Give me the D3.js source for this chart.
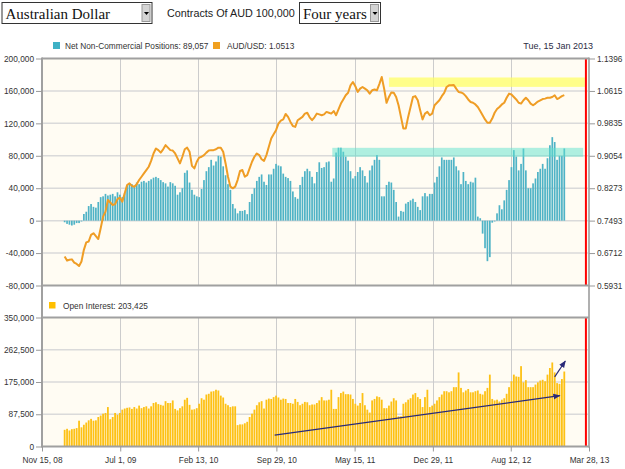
<!DOCTYPE html>
<html>
<head>
	<meta charset="utf-8">
	<title>Australian Dollar - Net Non-Commercial Positions</title>
	<script src="https://d3js.org/d3.v7.min.js"></script>
	<style>
		body { margin: 0; background: #fff; }
		text { font-family: 'Liberation Sans', Arial, sans-serif; }
	</style>
</head>
<body>
	<svg id="chart" width="625" height="469"></svg>
	<script type="text/javascript">
		//data.........................................

		var firstWeek = '2009-01-20';   // weekly COT reports, last one Tue 15 Jan 2013

		var netPositions = [
			-2000, -4000, -5000, -6000, -5000, -3000, -3000, -1000,
			8200, 11000, 18000, 20500, 17000, 16000, 23000, 29000, 30000, 33000,
			31000, 32000, 33000, 30000, 35000, 32000, 29000, 34000, 43000, 46000,
			45000, 42000, 47000, 45000, 48000, 49000, 47000, 49000, 51000, 53000,
			54000, 52500, 50000, 47500, 46000, 42000, 47500, 46000, 43000, 32000,
			35000, 40000, 59000, 62000, 47000, 38000, 32000, 30000, 29000, 39000,
			50000, 61000, 66000, 75000, 68000, 73000, 80000, 79000, 67000, 56000,
			45000, 38000, 20500, 15000, 9000, 12000, 12000, 13000, 8000, 23000,
			33000, 40000, 49000, 54000, 57000, 48000, 44000, 57000, 57000, 64000,
			70000, 68000, 67000, 58000, 54000, 52500, 49000, 36000, 29000, 27000,
			44000, 54000, 61000, 64000, 61000, 54000,
			46000, 60000, 72000, 65000, 66000, 72000, 73000, 48000, 52000, 84000,
			90000, 90000, 85000, 79000, 74000, 61000, 52000, 55000, 60000, 66000,
			62000, 55000, 47000, 62000, 68000, 75000, 81000, 75000, 30000, 30000,
			44000, 48000, 47000, 38000, 23000, 5000, 12000, 11000, 21000, 23000,
			25000, 27000, 23000, 17000, 13000, 30000, 34000, 30000, 33000, 33000,
			47000, 54000, 67000, 78000, 75000, 75000, 75000, 75000, 78000, 67000,
			62000, 45000, 60000, 49000, 45000, 48000, 47000, 53000, 5000, 3000,
			-16000, -34000, -50000, -45000, -2500, -1000, 9000, 19000, 14000, 25000,
			38000, 50000, 66000, 87000, 79000, 62000, 70000, 89000, 62000, 40000,
			40000, 46000, 52000, 60000, 64000, 70000, 64000, 77000, 93000, 103000,
			97000, 75000, 80000, 80000, 89057
		];

		var audUsd = [
			0.663, 0.653, 0.655, 0.656, 0.648, 0.645, 0.640, 0.651, 0.679, 0.697,
			0.699, 0.715, 0.719, 0.712, 0.705, 0.731, 0.759, 0.771,
			0.799, 0.793, 0.787, 0.789, 0.801, 0.805, 0.795, 0.815, 0.835, 0.839,
			0.833, 0.831, 0.837, 0.847, 0.855, 0.863, 0.871, 0.879, 0.893, 0.911,
			0.923, 0.919, 0.913, 0.921, 0.931, 0.925, 0.919, 0.918, 0.911, 0.899,
			0.887, 0.903, 0.921, 0.925, 0.915,
			0.881, 0.875, 0.891, 0.901, 0.903, 0.907, 0.913, 0.918, 0.919, 0.919,
			0.921, 0.925, 0.925, 0.915, 0.887, 0.855, 0.831, 0.827, 0.831, 0.847,
			0.869, 0.871, 0.855, 0.859, 0.875, 0.891, 0.903, 0.911, 0.907, 0.897,
			0.893, 0.907, 0.927, 0.947, 0.957,
			0.967, 0.983, 0.990, 0.993, 1.006, 0.999, 0.987, 0.977, 0.975, 0.991,
			0.995, 0.999, 1.007, 1.009, 0.998, 0.991, 0.998, 1.007, 1.005,
			1.003, 1.005, 1.011, 1.009, 1.007, 1.013, 1.003, 1.017, 1.031, 1.041,
			1.051, 1.057, 1.075, 1.083, 1.073, 1.059, 1.067, 1.071, 1.067, 1.063,
			1.055, 1.063, 1.065, 1.063, 1.078, 1.095, 1.067, 1.033, 1.047, 1.058,
			1.057, 1.047, 1.027, 0.999, 0.971, 0.971, 0.999, 1.023, 1.047, 1.049,
			1.039, 1.015, 0.993, 1.007, 1.011, 1.003, 1.007, 1.027, 1.033, 1.039,
			1.049, 1.057, 1.071, 1.075, 1.075, 1.076, 1.067, 1.059, 1.058, 1.055,
			1.049, 1.041, 1.035, 1.033, 1.029, 1.023, 1.013, 1.003, 0.993, 0.985,
			0.985, 0.995, 1.009, 1.018, 1.023, 1.029, 1.033, 1.045, 1.055, 1.053,
			1.047, 1.041, 1.033, 1.031, 1.039, 1.045, 1.039, 1.031, 1.027, 1.031,
			1.036, 1.039, 1.042, 1.043, 1.045, 1.045, 1.047, 1.051, 1.042, 1.045,
			1.049, 1.0513
		];

		var openInterest = [
			45300, 48000, 43500, 47000, 48000, 50000, 70000, 52000, 59000, 65000,
			71000, 75000, 70000, 71000, 80000, 84000, 89000, 91000,
			107000, 74000, 80000, 91000, 86000, 91000, 100000, 103000, 105000, 106000,
			102000, 107000, 103000, 111000, 104000, 107000, 109000, 103000, 109000, 118000,
			120000, 115000, 113000, 111000, 123000, 118000, 118000, 125000, 102000, 98000,
			104000, 109000, 127000, 132000, 113000,
			100000, 101000, 104000, 116000, 131000, 127000, 141000, 143000, 149000, 150000,
			154000, 152000, 138000, 133000, 116000, 112000, 107000, 109000, 109000, 58000,
			60000, 60000, 63000, 67000, 80000, 89000, 100000, 112000, 120000, 123000,
			103000, 127000, 130000, 129000, 134000,
			138000, 133000, 127000, 130000, 129000, 118000, 118000, 116000, 129000, 121000,
			112000, 116000, 121000, 120000, 112000, 114000, 114000, 118000, 125000,
			134000, 125000, 125000, 127000, 154000, 102000, 102000, 134000, 145000, 149000,
			142000, 142000, 141000, 129000, 116000, 111000, 118000, 145000, 112000, 100000,
			92000, 125000, 129000, 136000, 134000, 127000, 104000, 104000, 111000, 122000,
			131000, 125000, 82000, 82000, 116000, 120000, 127000, 131000, 141000, 145000,
			134000, 129000, 107000, 134000, 154000, 107000, 111000, 116000, 125000, 134000,
			141000, 150000, 150000, 147000, 150000, 161000, 161000, 201000, 159000, 147000,
			152000, 156000, 147000, 147000, 150000, 152000, 143000, 141000, 150000, 159000,
			195000, 129000, 125000, 127000, 122000, 127000, 131000, 143000, 161000, 177000,
			195000, 190000, 189000, 218000, 174000, 180000, 161000, 161000, 161000, 168000,
			174000, 179000, 181000, 177000, 195000, 213000, 228000, 201000, 172000, 170000,
			183000, 203425
		];

		var dateTicks = ['2008-11-15', '2009-07-01', '2010-02-13', '2010-09-29', '2011-05-15', '2011-12-29', '2012-08-12', '2013-03-28'];
		var dateLabels = ['Nov 15, 08', 'Jul 1, 09', 'Feb 13, 10', 'Sep 29, 10', 'May 15, 11', 'Dec 29, 11', 'Aug 12, 12', 'Mar 28, 13'];
		var netTicks = [-80000, -40000, 0, 40000, 80000, 120000, 160000, 200000];
		var audTicks = [0.5931, 0.6712, 0.7493, 0.8273, 0.9054, 0.9835, 1.0615, 1.1396];
		var oiTicks = [0, 87500, 175000, 262500, 350000];

		// highlight zones and hand drawn arrows (in date / value units)
		var audZone = {from: '2011-08-23', to: '2013-03-16', low: 1.0713, high: 1.0939};
		var netZone = {from: '2011-03-11', to: '2013-03-11', low: 78800, high: 89800};
		var oiArrows = [
			{from: ['2010-09-24', 31000], to: ['2013-01-02', 138000]},
			{from: ['2012-12-18', 189000], to: ['2013-01-18', 232000]}
		];
		var todayMark = '2013-03-19';

		var parseDate = d3.timeParse('%Y-%m-%d');
		var weeks = netPositions.map(function(d, i) { return d3.timeWeek.offset(parseDate(firstWeek), i); });

		//layout.........................................

		var left = 42, right = 589;
		var top1 = 58.5, bottom1 = 285.5;
		var top2 = 317.5, bottom2 = 446.5;

		//scales.........................................

		var xScale = d3.scaleTime()
			.domain([parseDate(dateTicks[0]), parseDate(dateTicks[dateTicks.length - 1])])
			.range([left, right]);

		var yNet = d3.scaleLinear().domain([-80000, 200000]).range([bottom1, top1]);
		var yAud = d3.scaleLinear().domain([0.5931, 1.1396]).range([bottom1, top1]);
		var yOi = d3.scaleLinear().domain([0, 350000]).range([bottom2, top2]);

		var fmt = function(v) { return d3.format(',')(v).replace('\u2212', '-'); };

		var svg = d3.select('#chart');

		//header.........................................

		function selectBox(x, w, label) {
			var g = svg.append('g').attr('transform', 'translate(' + x + ',2)');
			g.append('rect').attr('x', 0.5).attr('y', 0.5).attr('width', w).attr('height', 21)
				.attr('fill', '#fff').attr('stroke', '#333');
			g.append('rect').attr('x', w - 9.5).attr('y', 2.5).attr('width', 8).attr('height', 17)
				.attr('fill', '#d4d4d4').attr('stroke', '#999');
			g.append('path').attr('d', 'M' + (w - 7.5) + ',10 h5 l-2.5,3 z').attr('fill', '#000');
			g.append('text').attr('x', 4).attr('y', 16.5)
				.style('font-family', "'Liberation Serif', 'Times New Roman', serif")
				.style('font-size', '15px').attr('fill', '#111').text(label);
		}
		selectBox(1.5, 150, 'Australian Dollar');
		svg.append('text').attr('x', 167).attr('y', 17).style('font-size', '10.8px').attr('fill', '#222')
			.text('Contracts Of AUD 100,000');
		selectBox(299, 81, 'Four years');

		//plot backgrounds...............................

		svg.append('rect').attr('x', left).attr('y', top1).attr('width', right - left).attr('height', bottom1 - top1).attr('fill', '#fffcf3');
		svg.append('rect').attr('x', left).attr('y', top2).attr('width', right - left).attr('height', bottom2 - top2).attr('fill', '#fffcf3');

		//grid...........................................

		var grid = svg.append('g');
		grid.selectAll('.hnet').data(netTicks.slice(1, -1)).enter().append('line')
			.attr('x1', left).attr('x2', right)
			.attr('y1', function(d) { return yNet(d); }).attr('y2', function(d) { return yNet(d); })
			.attr('stroke', '#dadada').attr('stroke-width', 1.5);
		grid.selectAll('.hoi').data(oiTicks.slice(1, -1)).enter().append('line')
			.attr('x1', left).attr('x2', right)
			.attr('y1', function(d) { return yOi(d); }).attr('y2', function(d) { return yOi(d); })
			.attr('stroke', '#dadada').attr('stroke-width', 1.5);
		[[top1, bottom1], [top2, bottom2]].forEach(function(r) {
			grid.selectAll(null).data(dateTicks.slice(1, -1)).enter().append('line')
				.attr('x1', function(d) { return Math.round(xScale(parseDate(d))) + 0.5; })
				.attr('x2', function(d) { return Math.round(xScale(parseDate(d))) + 0.5; })
				.attr('y1', r[0]).attr('y2', r[1])
				.attr('stroke', '#cccccc').attr('stroke-width', 1);
		});

		//net positions bars.............................

		svg.append('g').selectAll('rect').data(netPositions).enter().append('rect')
			.attr('x', function(d, i) { return xScale(weeks[i]) - 0.85; })
			.attr('width', 1.7)
			.attr('y', function(d) { return yNet(Math.max(0, d)); })
			.attr('height', function(d) { return Math.abs(yNet(d) - yNet(0)); })
			.attr('fill', '#4fb3c6');

		//zones..........................................

		svg.append('rect')
			.attr('x', xScale(parseDate(netZone.from)))
			.attr('width', xScale(parseDate(netZone.to)) - xScale(parseDate(netZone.from)))
			.attr('y', yNet(netZone.high)).attr('height', yNet(netZone.low) - yNet(netZone.high))
			.attr('fill', '#5fe2cd').attr('opacity', 0.5);
		svg.append('rect')
			.attr('x', xScale(parseDate(audZone.from)))
			.attr('width', xScale(parseDate(audZone.to)) - xScale(parseDate(audZone.from)))
			.attr('y', yAud(audZone.high)).attr('height', yAud(audZone.low) - yAud(audZone.high))
			.attr('fill', '#ffff66').attr('opacity', 0.75);

		//aud/usd line...................................

		var line = d3.line()
			.x(function(d, i) { return xScale(weeks[i]); })
			.y(function(d) { return yAud(d); });
		svg.append('path').datum(audUsd).attr('d', line)
			.attr('fill', 'none').attr('stroke', '#ef9d25').attr('stroke-width', 2)
			.attr('stroke-linejoin', 'round');

		//open interest bars.............................

		svg.append('g').selectAll('rect').data(openInterest).enter().append('rect')
			.attr('x', function(d, i) { return xScale(weeks[i]) - 0.9; })
			.attr('width', 1.8)
			.attr('y', function(d) { return yOi(d); })
			.attr('height', function(d) { return yOi(0) - yOi(d); })
			.attr('fill', '#fdc115');

		//arrows.........................................

		svg.append('defs').append('marker')
			.attr('id', 'head').attr('viewBox', '0 0 10 10').attr('refX', 9).attr('refY', 5)
			.attr('markerWidth', 6).attr('markerHeight', 6).attr('orient', 'auto')
			.append('path').attr('d', 'M0,1 L10,5 L0,9 z').attr('fill', '#2a2a78');
		svg.append('g').selectAll('line').data(oiArrows).enter().append('line')
			.attr('x1', function(d) { return xScale(parseDate(d.from[0])); })
			.attr('y1', function(d) { return yOi(d.from[1]); })
			.attr('x2', function(d) { return xScale(parseDate(d.to[0])); })
			.attr('y2', function(d) { return yOi(d.to[1]); })
			.attr('stroke', '#2a2a78').attr('stroke-width', 1.2)
			.attr('marker-end', 'url(#head)');

		//today marker...................................

		var tx = xScale(parseDate(todayMark));
		[[top1, bottom1], [top2, bottom2]].forEach(function(r) {
			svg.append('line').attr('x1', tx).attr('x2', tx).attr('y1', r[0]).attr('y2', r[1])
				.attr('stroke', '#ff0000').attr('stroke-width', 2);
		});

		//frame..........................................

		var frame = svg.append('g').attr('stroke', '#a0a0a0').attr('stroke-width', 2).attr('fill', 'none');
		frame.append('line').attr('x1', left).attr('x2', left).attr('y1', top1 - 1).attr('y2', bottom2 + 1);
		frame.append('line').attr('x1', right).attr('x2', right).attr('y1', top1 - 1).attr('y2', bottom2 + 1).attr('stroke', '#b0b0b0');
		[top1, bottom1, top2, bottom2].forEach(function(y) {
			frame.append('line').attr('x1', left).attr('x2', right).attr('y1', y).attr('y2', y);
		});

		//axes...........................................

		function styleAxis(g) {
			g.select('.domain').remove();
			g.selectAll('line').attr('stroke', '#999');
			g.selectAll('text').attr('fill', '#333').style('font-size', '8.3px')
				.style('font-family', "'Liberation Sans', Arial, sans-serif");
		}

		svg.append('g').attr('transform', 'translate(' + left + ',0)')
			.call(d3.axisLeft(yNet).tickValues(netTicks).tickSize(6).tickPadding(2).tickFormat(fmt))
			.call(styleAxis);
		svg.append('g').attr('transform', 'translate(' + right + ',0)')
			.call(d3.axisRight(yAud).tickValues(audTicks).tickSize(6).tickPadding(2).tickFormat(d3.format('.4f')))
			.call(styleAxis);
		svg.append('g').attr('transform', 'translate(' + left + ',0)')
			.call(d3.axisLeft(yOi).tickValues(oiTicks).tickSize(6).tickPadding(2).tickFormat(fmt))
			.call(styleAxis);
		svg.append('g').attr('transform', 'translate(0,' + bottom2 + ')')
			.call(d3.axisBottom(xScale).tickValues(dateTicks.map(parseDate)).tickSize(5).tickPadding(6)
				.tickFormat(function(d, i) { return dateLabels[i]; }))
			.call(styleAxis);

		//legends........................................

		svg.append('rect').attr('x', 53).attr('y', 42).attr('width', 7).attr('height', 7).attr('fill', '#3fb1c5');
		svg.append('text').attr('x', 65).attr('y', 49).style('font-size', '8.3px').attr('fill', '#333')
			.text('Net Non-Commercial Positions: ' + d3.format(',')(netPositions[netPositions.length - 1]));
		svg.append('rect').attr('x', 213).attr('y', 42).attr('width', 7).attr('height', 7).attr('fill', '#f0a020');
		svg.append('text').attr('x', 227).attr('y', 49).style('font-size', '8.3px').attr('fill', '#333')
			.text('AUD/USD: ' + audUsd[audUsd.length - 1].toFixed(4));
		svg.append('text').attr('x', 593).attr('y', 49).attr('text-anchor', 'end').style('font-size', '9px').attr('fill', '#2c2c44')
			.text(d3.timeFormat('%a, %d %b %Y')(weeks[weeks.length - 1]));

		svg.append('rect').attr('x', 49).attr('y', 302).attr('width', 6.5).attr('height', 6.5).attr('fill', '#ffbf00');
		svg.append('text').attr('x', 63).attr('y', 308.5).style('font-size', '8.3px').attr('fill', '#333')
			.text('Open Interest: ' + d3.format(',')(openInterest[openInterest.length - 1]));
	</script>
</body>
</html>
